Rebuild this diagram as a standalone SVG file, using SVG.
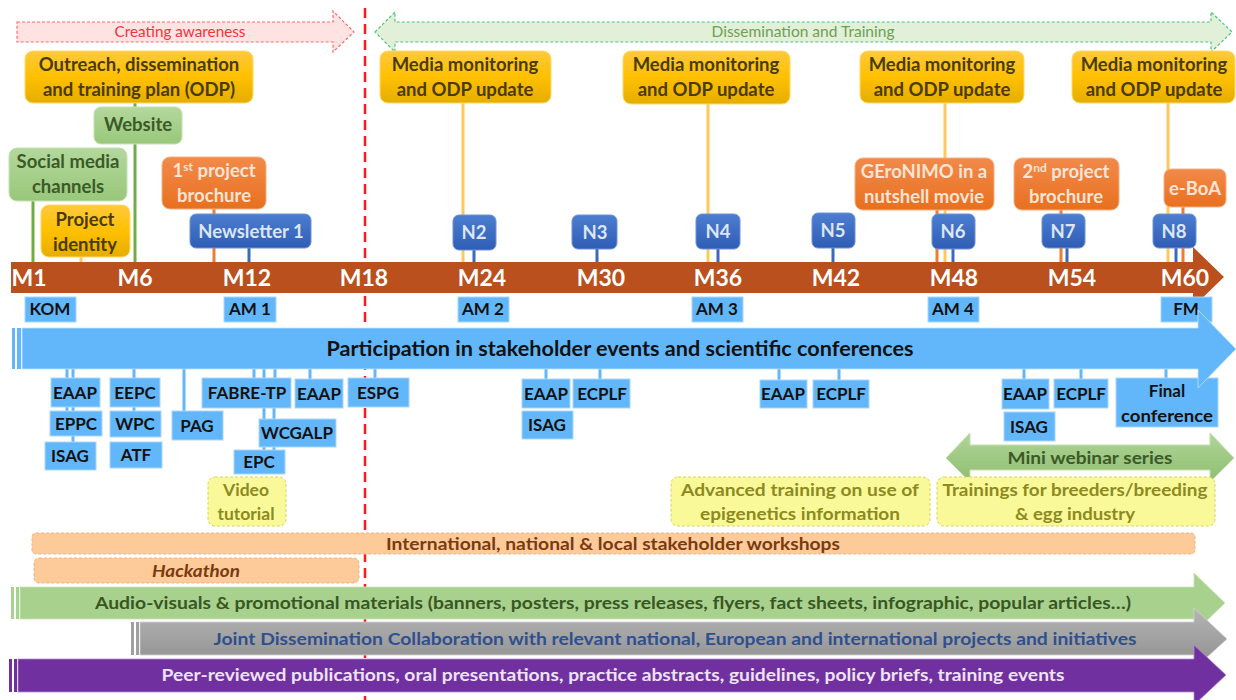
<svg xmlns="http://www.w3.org/2000/svg" width="1236" height="700" viewBox="0 0 1236 700">
  <defs>
    <linearGradient id="gGold" x1="0" y1="0" x2="0" y2="1">
      <stop offset="0" stop-color="#FFC93C"/>
      <stop offset="0.5" stop-color="#FFC000"/>
      <stop offset="1" stop-color="#E5AD00"/>
    </linearGradient>
    <linearGradient id="gGreen" x1="0" y1="0" x2="0" y2="1">
      <stop offset="0" stop-color="#B4D89C"/>
      <stop offset="1" stop-color="#98C77A"/>
    </linearGradient>
    <linearGradient id="gOrange" x1="0" y1="0" x2="0" y2="1">
      <stop offset="0" stop-color="#F28A4A"/>
      <stop offset="1" stop-color="#E8701F"/>
    </linearGradient>
    <linearGradient id="gBlue" x1="0" y1="0" x2="0" y2="1">
      <stop offset="0" stop-color="#4C7ED0"/>
      <stop offset="1" stop-color="#2F5DB5"/>
    </linearGradient>
    <linearGradient id="gGrey" x1="0" y1="0" x2="0" y2="1">
      <stop offset="0" stop-color="#B5B5B5"/>
      <stop offset="1" stop-color="#8E8E8E"/>
    </linearGradient>
    <linearGradient id="gMini" x1="0" y1="0" x2="0" y2="1">
      <stop offset="0" stop-color="#B0D597"/>
      <stop offset="1" stop-color="#8FBE70"/>
    </linearGradient>
  </defs>
  <style>
    text { font-family: Lato, "Liberation Sans", sans-serif; font-weight: bold; text-anchor: middle; }
    .gold { fill: url(#gGold); stroke: #FFD966; stroke-width: 1; }
    .goldT { fill: #4A3B00; font-size: 18.5px; }
    .green { fill: url(#gGreen); stroke: #C5E0B4; stroke-width: 1; }
    .greenT { fill: #3B5A28; font-size: 18.5px; }
    .orange { fill: url(#gOrange); stroke: #F4B183; stroke-width: 1; }
    .orangeT { fill: #FCE4D6; font-size: 18.5px; }
    .blue { fill: url(#gBlue); stroke: #6F92D6; stroke-width: 1; }
    .blueT { fill: #DCE6F6; font-size: 18.5px; }
    .lb { fill: #62B7FA; stroke: #A9D6FC; stroke-width: 1; }
    .lbT { fill: #111; font-size: 17px; }
    .yel { fill: #FAF99A; stroke: #D8D55A; stroke-width: 1; stroke-dasharray: 3 2; }
    .yelT { fill: #8C8A1E; font-size: 17.5px; }
    .month { fill: #FFFFFF; font-size: 23px; }
    .c { stroke-width: 3; fill: none; }
    .cG { stroke: #70AD47; }
    .cY { stroke: #FFC85C; }
    .cO { stroke: #ED7D31; }
    .cB { stroke: #3A69BE; }
    .cL { stroke: #62B7FA; }
  </style>

  <!-- phase divider -->
  <line x1="365" y1="8" x2="365" y2="700" stroke="#FF1A1A" stroke-width="2.5" stroke-dasharray="10 6"/>

  <!-- phase arrows -->
  <g id="phase-awareness">
    <polygon points="17,22 333,22 333,11 354,32 333,52 333,42 17,42" fill="#FFE3E3" stroke="#FF6B6B" stroke-width="1.2" stroke-dasharray="3 2"/>
    <text x="180" y="37" textLength="131" lengthAdjust="spacingAndGlyphs" style="font-size:15px;font-weight:normal;fill:#F0343C">Creating awareness</text>
  </g>
  <g id="phase-dissemination">
    <polygon points="375,32 395,12 395,22 1211,22 1211,12 1232,32 1211,52 1211,42 395,42 395,52" fill="#E2F0D9" stroke="#4CC57A" stroke-width="1.2" stroke-dasharray="3 2"/>
    <text x="803" y="37" textLength="183" lengthAdjust="spacingAndGlyphs" style="font-size:15px;font-weight:normal;fill:#6E9F52">Dissemination and Training</text>
  </g>

  <!-- connectors -->
  <g id="connectors" class="c">
    <line class="c cG" x1="135" y1="103" x2="135" y2="262"/>
    <line class="c cG" x1="33" y1="201" x2="33" y2="262"/>
    <line class="c cY" x1="81" y1="257" x2="81" y2="262"/>
    <line class="c cO" x1="214" y1="209" x2="214" y2="262"/>
    <line class="c cB" x1="249" y1="248" x2="249" y2="262"/>
    <line class="c cY" x1="463" y1="103" x2="463" y2="262"/>
    <line class="c cB" x1="474" y1="250" x2="474" y2="262"/>
    <line class="c cB" x1="597" y1="249" x2="597" y2="262"/>
    <line class="c cY" x1="708" y1="104" x2="708" y2="262"/>
    <line class="c cB" x1="718" y1="249" x2="718" y2="262"/>
    <line class="c cB" x1="833" y1="248" x2="833" y2="262"/>
    <line class="c cO" x1="937" y1="210" x2="937" y2="262"/>
    <line class="c cY" x1="945" y1="103" x2="945" y2="262"/>
    <line class="c cB" x1="953" y1="249" x2="953" y2="262"/>
    <line class="c cO" x1="1061" y1="210" x2="1061" y2="262"/>
    <line class="c cB" x1="1067" y1="248" x2="1067" y2="262"/>
    <line class="c cY" x1="1168" y1="103" x2="1168" y2="262"/>
    <line class="c cB" x1="1176" y1="248" x2="1176" y2="262"/>
    <line class="c cO" x1="1183" y1="207" x2="1183" y2="262"/>
    <!-- event links below the participation arrow -->
    <line class="c cL" x1="67" y1="369" x2="67" y2="378"/>
    <line class="c cL" x1="73" y1="369" x2="73" y2="378"/>
    <line class="c cL" x1="67" y1="407" x2="67" y2="411"/>
    <line class="c cL" x1="73" y1="407" x2="73" y2="411"/>
    <line class="c cL" x1="73" y1="436" x2="73" y2="442"/>
    <line class="c cL" x1="134" y1="369" x2="134" y2="378"/>
    <line class="c cL" x1="134" y1="407" x2="134" y2="411"/>
    <line class="c cL" x1="184" y1="369" x2="184" y2="411"/>
    <line class="c cL" x1="254" y1="369" x2="254" y2="378"/>
    <line class="c cL" x1="264" y1="369" x2="264" y2="378"/>
    <line class="c cL" x1="275" y1="369" x2="275" y2="378"/>
    <line class="c cL" x1="264" y1="408" x2="264" y2="419"/>
    <line class="c cL" x1="274" y1="408" x2="274" y2="419"/>
    <line class="c cL" x1="264" y1="447" x2="264" y2="450"/>
    <line class="c cL" x1="274" y1="447" x2="274" y2="450"/>
    <line class="c cL" x1="310" y1="369" x2="310" y2="379"/>
    <line class="c cL" x1="375" y1="369" x2="375" y2="378"/>
    <line class="c cL" x1="546" y1="369" x2="546" y2="379"/>
    <line class="c cL" x1="600" y1="369" x2="600" y2="379"/>
    <line class="c cL" x1="779" y1="369" x2="779" y2="380"/>
    <line class="c cL" x1="839" y1="369" x2="839" y2="380"/>
    <line class="c cL" x1="1024" y1="369" x2="1024" y2="379"/>
    <line class="c cL" x1="1081" y1="369" x2="1081" y2="379"/>
    <line class="c cL" x1="1166" y1="369" x2="1166" y2="378"/>
  </g>

  <!-- project timeline -->
  <g id="timeline">
    <polygon points="11,262 1193,262 1193,247 1224,277 1193,307 1193,293 11,293" fill="#B9501E"/>
    <text class="month" x="29" y="286">M1</text>
    <text class="month" x="135" y="286">M6</text>
    <text class="month" x="247" y="286">M12</text>
    <text class="month" x="364" y="286">M18</text>
    <text class="month" x="482" y="286">M24</text>
    <text class="month" x="601" y="286">M30</text>
    <text class="month" x="718" y="286">M36</text>
    <text class="month" x="836" y="286">M42</text>
    <text class="month" x="954" y="286">M48</text>
    <text class="month" x="1072" y="286">M54</text>
    <text class="month" x="1185" y="286">M60</text>
  </g>

  <!-- planning and identity items -->
  <g id="odp">
    <rect class="gold" x="25" y="51" width="228" height="52" rx="8"/>
    <text class="goldT" x="139" y="71">Outreach, dissemination</text>
    <text class="goldT" x="139" y="96">and training plan (ODP)</text>
  </g>
  <g id="website">
    <rect class="green" x="94" y="107" width="88" height="37" rx="7"/>
    <text class="greenT" x="138" y="131">Website</text>
  </g>
  <g id="social-media">
    <rect class="green" x="9" y="148" width="118" height="53" rx="8"/>
    <text class="greenT" x="68" y="168">Social media</text>
    <text class="greenT" x="68" y="193">channels</text>
  </g>
  <g id="project-identity">
    <rect class="gold" x="41" y="205" width="89" height="52" rx="8"/>
    <text class="goldT" x="85" y="226">Project</text>
    <text class="goldT" x="85" y="251">identity</text>
  </g>
  <g id="brochure-1">
    <rect class="orange" x="162" y="157" width="104" height="52" rx="8"/>
    <text class="orangeT" x="214" y="177">1<tspan font-size="12px" dy="-6">st</tspan><tspan dy="6"> project</tspan></text>
    <text class="orangeT" x="214" y="202">brochure</text>
  </g>
  <g id="newsletter-1">
    <rect class="blue" x="190" y="214" width="121" height="34" rx="6"/>
    <text class="blueT" x="251" y="238">Newsletter 1</text>
  </g>

  <!-- media monitoring updates -->
  <g id="mm-1">
    <rect class="gold" x="380" y="51" width="171" height="52" rx="8"/>
    <text class="goldT" x="465" y="71">Media monitoring</text>
    <text class="goldT" x="465" y="96">and ODP update</text>
  </g>
  <g id="mm-2">
    <rect class="gold" x="623" y="51" width="167" height="53" rx="8"/>
    <text class="goldT" x="706" y="71">Media monitoring</text>
    <text class="goldT" x="706" y="96">and ODP update</text>
  </g>
  <g id="mm-3">
    <rect class="gold" x="860" y="51" width="164" height="52" rx="8"/>
    <text class="goldT" x="942" y="71">Media monitoring</text>
    <text class="goldT" x="942" y="96">and ODP update</text>
  </g>
  <g id="mm-4">
    <rect class="gold" x="1072" y="51" width="163" height="52" rx="8"/>
    <text class="goldT" x="1154" y="71">Media monitoring</text>
    <text class="goldT" x="1154" y="96">and ODP update</text>
  </g>

  <!-- later outputs -->
  <g id="movie">
    <rect class="orange" x="855" y="158" width="139" height="52" rx="8"/>
    <text class="orangeT" x="924" y="178">GEroNIMO  in a</text>
    <text class="orangeT" x="924" y="203">nutshell movie</text>
  </g>
  <g id="brochure-2">
    <rect class="orange" x="1014" y="158" width="105" height="52" rx="8"/>
    <text class="orangeT" x="1066" y="178">2<tspan font-size="12px" dy="-6">nd</tspan><tspan dy="6"> project</tspan></text>
    <text class="orangeT" x="1066" y="203">brochure</text>
  </g>
  <g id="eboa">
    <rect class="orange" x="1164" y="169" width="62" height="38" rx="7"/>
    <text class="orangeT" x="1195" y="195">e-BoA</text>
  </g>

  <!-- newsletters -->
  <g id="n2"><rect class="blue" x="453" y="215" width="43" height="35" rx="6"/><text class="blueT" x="474" y="239">N2</text></g>
  <g id="n3"><rect class="blue" x="572" y="215" width="45" height="34" rx="6"/><text class="blueT" x="595" y="239">N3</text></g>
  <g id="n4"><rect class="blue" x="696" y="214" width="44" height="35" rx="6"/><text class="blueT" x="718" y="238">N4</text></g>
  <g id="n5"><rect class="blue" x="812" y="213" width="43" height="35" rx="6"/><text class="blueT" x="833" y="237">N5</text></g>
  <g id="n6"><rect class="blue" x="932" y="214" width="43" height="35" rx="6"/><text class="blueT" x="953" y="238">N6</text></g>
  <g id="n7"><rect class="blue" x="1042" y="214" width="43" height="34" rx="6"/><text class="blueT" x="1063" y="238">N7</text></g>
  <g id="n8"><rect class="blue" x="1153" y="214" width="43" height="34" rx="6"/><text class="blueT" x="1174" y="238">N8</text></g>

  <!-- meetings -->
  <g id="kom"><rect class="lb" x="25" y="297" width="51" height="25"/><text class="lbT" x="50" y="315">KOM</text></g>
  <g id="am1"><rect class="lb" x="224" y="297" width="52" height="25"/><text class="lbT" x="250" y="315">AM 1</text></g>
  <g id="am2"><rect class="lb" x="458" y="297" width="51" height="25"/><text class="lbT" x="483" y="315">AM 2</text></g>
  <g id="am3"><rect class="lb" x="692" y="297" width="51" height="25"/><text class="lbT" x="717" y="315">AM 3</text></g>
  <g id="am4"><rect class="lb" x="928" y="297" width="51" height="25"/><text class="lbT" x="953" y="315">AM 4</text></g>
  <g id="fm"><rect class="lb" x="1161" y="297" width="51" height="25"/><text class="lbT" x="1186" y="315">FM</text></g>

  <!-- events and conferences -->
  <g id="final-conference">
    <rect class="lb" x="1116" y="378" width="102" height="49"/>
    <text class="lbT" x="1167" y="397">Final</text>
    <text class="lbT" x="1167" y="422" textLength="92" lengthAdjust="spacingAndGlyphs">conference</text>
  </g>
  <g id="participation">
    <rect x="12" y="328" width="3" height="41" fill="#62B7FA"/>
    <rect x="17" y="328" width="4" height="41" fill="#62B7FA"/>
    <polygon points="22,328 1198,328 1198,310 1236,349 1198,388 1198,369 22,369" fill="#62B7FA" stroke="#BFE2FD" stroke-width="0.8"/>
    <text x="620" y="356" textLength="587" lengthAdjust="spacingAndGlyphs" style="font-size:20.5px;fill:#111">Participation in stakeholder events and scientific conferences</text>
  </g>
  <g id="eaap-1"><rect class="lb" x="51" y="378" width="49" height="29"/><text class="lbT" x="75" y="399">EAAP</text></g>
  <g id="eppc"><rect class="lb" x="50" y="411" width="52" height="25"/><text class="lbT" x="76" y="430">EPPC</text></g>
  <g id="isag-1"><rect class="lb" x="45" y="442" width="51" height="28"/><text class="lbT" x="70" y="462">ISAG</text></g>
  <g id="eepc"><rect class="lb" x="110" y="378" width="50" height="29"/><text class="lbT" x="135" y="399">EEPC</text></g>
  <g id="wpc"><rect class="lb" x="110" y="411" width="51" height="26"/><text class="lbT" x="135" y="430">WPC</text></g>
  <g id="atf"><rect class="lb" x="110" y="442" width="52" height="26"/><text class="lbT" x="136" y="461">ATF</text></g>
  <g id="pag"><rect class="lb" x="172" y="411" width="51" height="29"/><text class="lbT" x="197" y="432">PAG</text></g>
  <g id="fabre-tp"><rect class="lb" x="202" y="378" width="89" height="30"/><text class="lbT" x="247" y="399">FABRE-TP</text></g>
  <g id="eaap-2"><rect class="lb" x="295" y="379" width="48" height="29"/><text class="lbT" x="319" y="400">EAAP</text></g>
  <g id="espg"><rect class="lb" x="348" y="378" width="61" height="29"/><text class="lbT" x="378" y="399">ESPG</text></g>
  <g id="wcgalp"><rect class="lb" x="259" y="419" width="77" height="28"/><text class="lbT" x="297" y="439">WCGALP</text></g>
  <g id="epc"><rect class="lb" x="234" y="450" width="51" height="24"/><text class="lbT" x="259" y="468">EPC</text></g>
  <g id="eaap-3"><rect class="lb" x="522" y="379" width="48" height="29"/><text class="lbT" x="546" y="400">EAAP</text></g>
  <g id="isag-2"><rect class="lb" x="522" y="411" width="51" height="28"/><text class="lbT" x="547" y="431">ISAG</text></g>
  <g id="ecplf-1"><rect class="lb" x="573" y="379" width="57" height="29"/><text class="lbT" x="602" y="400">ECPLF</text></g>
  <g id="eaap-4"><rect class="lb" x="760" y="380" width="47" height="28"/><text class="lbT" x="783" y="400">EAAP</text></g>
  <g id="ecplf-2"><rect class="lb" x="813" y="380" width="56" height="28"/><text class="lbT" x="841" y="400">ECPLF</text></g>
  <g id="eaap-5"><rect class="lb" x="1002" y="379" width="47" height="30"/><text class="lbT" x="1025" y="400">EAAP</text></g>
  <g id="isag-3"><rect class="lb" x="1004" y="412" width="51" height="29"/><text class="lbT" x="1029" y="433">ISAG</text></g>
  <g id="ecplf-3"><rect class="lb" x="1054" y="379" width="54" height="29"/><text class="lbT" x="1081" y="400">ECPLF</text></g>

  <!-- training -->
  <g id="mini-webinar">
    <polygon points="946,458 970,433 970,445 1210,445 1210,433 1234,458 1210,482 1210,470 970,470 970,482" fill="url(#gMini)" stroke="#C5E0B4" stroke-width="1"/>
    <text x="1090" y="464" textLength="165" lengthAdjust="spacingAndGlyphs" style="font-size:17.5px;fill:#3B5A28">Mini webinar series</text>
  </g>
  <g id="video-tutorial">
    <rect class="yel" x="208" y="477" width="78" height="49" rx="7"/>
    <text class="yelT" x="246" y="496">Video</text>
    <text class="yelT" x="246" y="520">tutorial</text>
  </g>
  <g id="advanced-training">
    <rect class="yel" x="671" y="477" width="259" height="49" rx="7"/>
    <text class="yelT" x="800" y="496" textLength="238" lengthAdjust="spacingAndGlyphs">Advanced training  on use of</text>
    <text class="yelT" x="800" y="520" textLength="200" lengthAdjust="spacingAndGlyphs">epigenetics information</text>
  </g>
  <g id="breeder-training">
    <rect class="yel" x="937" y="477" width="278" height="49" rx="7"/>
    <text class="yelT" x="1075" y="496" textLength="265" lengthAdjust="spacingAndGlyphs">Trainings  for breeders/breeding</text>
    <text class="yelT" x="1075" y="520" textLength="120" lengthAdjust="spacingAndGlyphs">&amp; egg industry</text>
  </g>

  <!-- workshops -->
  <g id="workshops">
    <rect x="32" y="533" width="1163" height="21" rx="4" fill="#FDCB9A" stroke="#F4B183" stroke-width="1" stroke-dasharray="3 2"/>
    <text x="613" y="550" textLength="454" lengthAdjust="spacingAndGlyphs" style="font-size:17px;fill:#7A3A10">International,  national  &amp; local  stakeholder  workshops</text>
  </g>
  <g id="hackathon">
    <rect x="34" y="558" width="325" height="25" rx="5" fill="#FDCB9A" stroke="#F4B183" stroke-width="1" stroke-dasharray="3 2"/>
    <text x="196" y="577" textLength="88" lengthAdjust="spacingAndGlyphs" style="font-size:17px;font-style:italic;fill:#7A3A10">Hackathon</text>
  </g>

  <!-- continuous activities -->
  <g id="audio-visuals">
    <rect x="11" y="587" width="3" height="32" fill="#A9D18E"/>
    <rect x="16" y="587" width="3" height="32" fill="#A9D18E"/>
    <polygon points="20,587 1194,587 1194,573 1225,603 1194,633 1194,619 20,619" fill="#A9D18E" stroke="#C9E3B8" stroke-width="0.8"/>
    <text x="613" y="609" textLength="1036" lengthAdjust="spacingAndGlyphs" style="font-size:17px;fill:#385723">Audio-visuals  &amp; promotional  materials (banners, posters, press releases, flyers, fact sheets, infographic, popular articles…)</text>
  </g>
  <g id="joint-dissemination">
    <rect x="131" y="622" width="3" height="33" fill="#A0A0A0"/>
    <rect x="136" y="622" width="3" height="33" fill="#A0A0A0"/>
    <polygon points="140,622 1194,622 1194,608 1227,639 1194,669 1194,655 140,655" fill="url(#gGrey)" stroke="#D0D0D0" stroke-width="0.8"/>
    <text x="675" y="645" textLength="923" lengthAdjust="spacingAndGlyphs" style="font-size:17px;fill:#2F4F8F">Joint Dissemination  Collaboration  with relevant  national, European and international  projects and initiatives</text>
  </g>
  <g id="peer-reviewed">
    <rect x="9" y="659" width="3" height="33" fill="#7030A0"/>
    <rect x="14" y="659" width="3" height="33" fill="#7030A0"/>
    <polygon points="18,659 1194,659 1194,645 1226,675 1194,705 1194,692 18,692" fill="#7030A0" stroke="#B48ACF" stroke-width="0.8"/>
    <text x="613" y="681" textLength="903" lengthAdjust="spacingAndGlyphs" style="font-size:17px;fill:#EDE3F5">Peer-reviewed publications,  oral presentations,  practice abstracts, guidelines, policy briefs, training events</text>
  </g>
</svg>
